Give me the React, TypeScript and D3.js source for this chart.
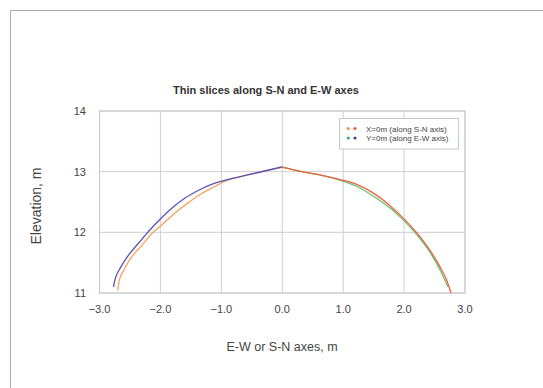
import React from "react";
import * as d3 from "d3";

// X=0m (along S-N axis): negative side (orange), positive side (red)
const snNegX = [-2.70, -2.68, -2.60, -2.47, -2.30, -2.14, -1.98, -1.76, -1.54, -1.32, -1.10, -0.97, -0.55, 0.0];
const snNegY = [11.04, 11.19, 11.38, 11.60, 11.79, 11.98, 12.12, 12.32, 12.49, 12.64, 12.76, 12.83, 12.95, 13.07];
const snPosX = [0.0, 0.32, 0.65, 0.95, 1.22, 1.49, 1.77, 1.99, 2.21, 2.42, 2.59, 2.70, 2.77];
const snPosY = [13.07, 13.0, 12.94, 12.87, 12.79, 12.65, 12.44, 12.23, 11.99, 11.71, 11.43, 11.21, 11.0];
// Y=0m (along E-W axis): negative side (purple), positive side (green)
const ewNegX = [-2.77, -2.76, -2.74, -2.66, -2.52, -2.36, -2.20, -2.00, -1.81, -1.59, -1.38, -1.16, -0.97, -0.55, 0.0];
const ewNegY = [11.10, 11.16, 11.24, 11.41, 11.63, 11.82, 12.01, 12.22, 12.40, 12.57, 12.69, 12.79, 12.85, 12.95, 13.08];
const ewPosX = [0.0, 0.32, 0.65, 0.95, 1.22, 1.49, 1.77, 1.96, 2.21, 2.42, 2.59, 2.72];
const ewPosY = [13.08, 13.0, 12.94, 12.86, 12.76, 12.60, 12.40, 12.23, 11.96, 11.68, 11.38, 11.10];

const xTicks = [-3, -2, -1, 0, 1, 2, 3];
const yTicks = [11, 12, 13, 14];
const legendLabels = ["X=0m (along S-N axis)", "Y=0m (along E-W axis)"];
const legendColors = [["#f7903c", "#f25a3a"], ["#3cb65a", "#4a3fa0"]];

const title = "Thin slices along S-N and E-W axes";
const xTitle = "E-W or S-N axes, m";
const yTitle = "Elevation, m";

const W = 543, H = 388;
const left = 99.5, right = 465, top = 111, bottom = 293;
const font = "'Liberation Sans', Arial, sans-serif";

export default function App() {
  const x = d3.scaleLinear().domain([-3, 3]).range([left, right]);
  const y = d3.scaleLinear().domain([11, 14]).range([bottom, top]);
  const line = d3
    .line<[number, number]>()
    .x((d) => x(d[0]))
    .y((d) => y(d[1]))
    .curve(d3.curveMonotoneX);
  const zip = (a: number[], b: number[]) => a.map((v, i) => [v, b[i]] as [number, number]);
  const series = [
    { d: zip(snNegX, snNegY), c: "#f9a25c" },
    { d: zip(ewNegX, ewNegY), c: "#5a52b4" },
    { d: zip(ewPosX, ewPosY), c: "#5cc878" },
    { d: zip(snPosX, snPosY), c: "#f0603c" },
  ];

  return (
    <svg width={W} height={H} style={{ position: "absolute", left: 0, top: 0, background: "#fff" }}>
      <line x1={10.5} y1={10.5} x2={543} y2={10.5} stroke="#aaa" strokeWidth={1} />
      <line x1={10.5} y1={10.5} x2={10.5} y2={388} stroke="#aaa" strokeWidth={1} />
      <text x={266} y={94} textAnchor="middle" fontFamily={font} fontSize={11} fontWeight="bold" fill="#333">
        {title}
      </text>
      {xTicks.map((t) => (
        <line key={"gx" + t} x1={x(t)} x2={x(t)} y1={top} y2={bottom} stroke="#cfcfcf" strokeWidth={1} />
      ))}
      {yTicks.map((t) => (
        <line key={"gy" + t} x1={left} x2={right} y1={y(t)} y2={y(t)} stroke="#cfcfcf" strokeWidth={1} />
      ))}
      <rect x={left} y={top} width={right - left} height={bottom - top} fill="none" stroke="#c8c8c8" strokeWidth={1} />
      {yTicks.map((t) => (
        <text key={"ty" + t} x={86} y={y(t) + 4} textAnchor="end" fontFamily={font} fontSize={11} fill="#444">
          {t}
        </text>
      ))}
      {xTicks.map((t) => (
        <text key={"tx" + t} x={x(t)} y={313} textAnchor="middle" fontFamily={font} fontSize={11} fill="#444">
          {d3.format(".1f")(t)}
        </text>
      ))}
      {series.map((s, i) => (
        <path key={i} d={line(s.d) || ""} fill="none" stroke={s.c} strokeWidth={1.3} />
      ))}
      <g>
        <rect x={339.5} y={118.5} width={119} height={30.5} fill="#fff" stroke="#c8c8c8" strokeWidth={1} />
        {legendLabels.map((l, i) => (
          <g key={l} transform={`translate(0, ${128.5 + i * 9.5})`}>
            <circle cx={348.3} cy={0} r={1.6} fill={legendColors[i][0]} />
            <circle cx={355} cy={0} r={1.6} fill={legendColors[i][1]} />
            <text x={366} y={3} fontFamily={font} fontSize={8} fill="#444">
              {l}
            </text>
          </g>
        ))}
      </g>
      <text x={282} y={351} textAnchor="middle" fontFamily={font} fontSize={12.5} fill="#444">
        {xTitle}
      </text>
      <text transform={`translate(41, 206) rotate(-90)`} textAnchor="middle" fontFamily={font} fontSize={14} fill="#444">
        {yTitle}
      </text>
    </svg>
  );
}
